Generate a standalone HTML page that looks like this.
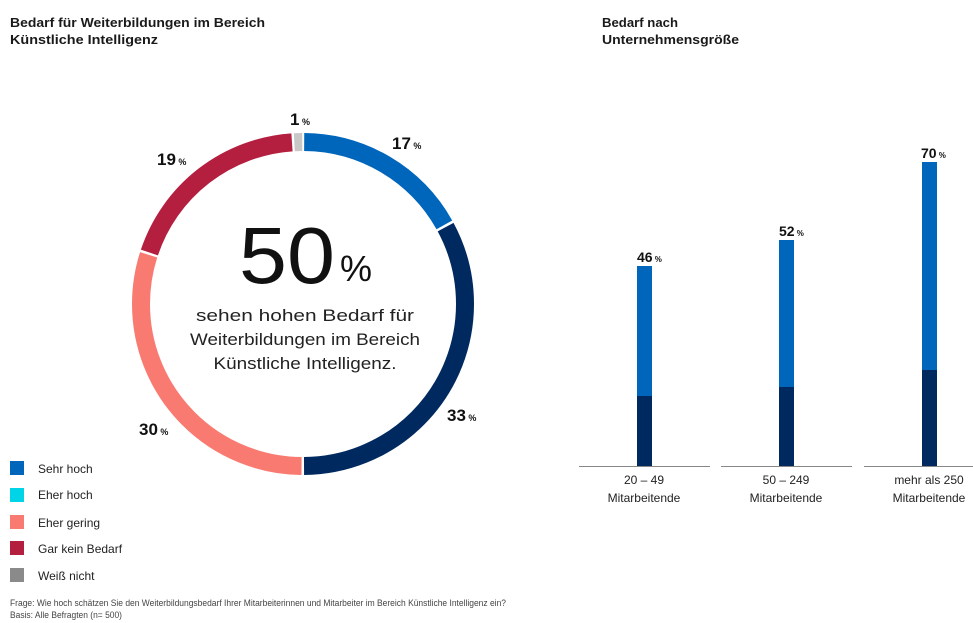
<!DOCTYPE html>
<html><head><meta charset="utf-8"><style>
html,body{margin:0;padding:0;background:#fff;}
svg{display:block;font-family:"Liberation Sans",sans-serif;}
</style></head><body>
<svg width="973" height="623" viewBox="0 0 973 623" xmlns="http://www.w3.org/2000/svg">
<g font-size="13" font-weight="bold" fill="#1a1a1a">
<text x="10" y="27" textLength="255" lengthAdjust="spacingAndGlyphs">Bedarf für Weiterbildungen im Bereich</text>
<text x="10" y="44" textLength="148" lengthAdjust="spacingAndGlyphs">Künstliche Intelligenz</text>
<text x="602" y="27" textLength="76" lengthAdjust="spacingAndGlyphs">Bedarf nach</text>
<text x="602" y="44" textLength="137" lengthAdjust="spacingAndGlyphs">Unternehmensgröße</text>
</g>
<g transform="rotate(-90 303 304)" fill="none" stroke-width="18">
<circle cx="303" cy="304" r="162" stroke="#0066bb" stroke-dasharray="170.5 2000" stroke-dashoffset="-1.2"/>
<circle cx="303" cy="304" r="162" stroke="#002a5f" stroke-dasharray="333.4 2000" stroke-dashoffset="-174.3"/>
<circle cx="303" cy="304" r="162" stroke="#f97a70" stroke-dasharray="302.9 2000" stroke-dashoffset="-510.2"/>
<circle cx="303" cy="304" r="162" stroke="#b41f40" stroke-dasharray="190.9 2000" stroke-dashoffset="-815.5"/>
<circle cx="303" cy="304" r="162" stroke="#c8c8c8" stroke-dasharray="8 2000" stroke-dashoffset="-1008.7"/>
</g>
<g fill="#111" font-size="17" font-weight="600">
<text x="290" y="125">1<tspan font-size="9"> %</tspan></text>
<text x="392" y="149">17<tspan font-size="9"> %</tspan></text>
<text x="157" y="165">19<tspan font-size="9"> %</tspan></text>
<text x="447" y="421">33<tspan font-size="9"> %</tspan></text>
<text x="139" y="435">30<tspan font-size="9"> %</tspan></text>
</g>
<text x="239" y="283" font-size="80" fill="#111" textLength="96" lengthAdjust="spacingAndGlyphs">50</text>
<text x="340" y="281" font-size="36" fill="#111">%</text>
<g font-size="17" fill="#222" text-anchor="middle">
<text x="305" y="321" textLength="218" lengthAdjust="spacingAndGlyphs">sehen hohen Bedarf für</text>
<text x="305" y="345" textLength="230" lengthAdjust="spacingAndGlyphs">Weiterbildungen im Bereich</text>
<text x="305" y="369" textLength="183" lengthAdjust="spacingAndGlyphs">Künstliche Intelligenz.</text>
</g>
<g>
<rect x="10" y="461" width="14" height="14" fill="#0066bb"/>
<rect x="10" y="488" width="14" height="14" fill="#00d4e6"/>
<rect x="10" y="515" width="14" height="14" fill="#f97a70"/>
<rect x="10" y="541" width="14" height="14" fill="#b41f40"/>
<rect x="10" y="568" width="14" height="14" fill="#8a8a8a"/>
</g>
<g font-size="12" fill="#222">
<text x="38" y="473">Sehr hoch</text>
<text x="38" y="499">Eher hoch</text>
<text x="38" y="527">Eher gering</text>
<text x="38" y="553">Gar kein Bedarf</text>
<text x="38" y="580">Weiß nicht</text>
</g>
<g font-size="9" fill="#444">
<text x="10" y="606" textLength="496" lengthAdjust="spacingAndGlyphs">Frage: Wie hoch schätzen Sie den Weiterbildungsbedarf Ihrer Mitarbeiterinnen und Mitarbeiter im Bereich Künstliche Intelligenz ein?</text>
<text x="10" y="618" textLength="112" lengthAdjust="spacingAndGlyphs">Basis: Alle Befragten (n= 500)</text>
</g>
<g>
<rect x="637" y="266" width="15" height="130" fill="#0066bb"/>
<rect x="637" y="396" width="15" height="70" fill="#002a5f"/>
<rect x="779" y="240" width="15" height="147" fill="#0066bb"/>
<rect x="779" y="387" width="15" height="79" fill="#002a5f"/>
<rect x="922" y="162" width="15" height="208" fill="#0066bb"/>
<rect x="922" y="370" width="15" height="96" fill="#002a5f"/>
</g>
<g stroke="#888" stroke-width="1">
<line x1="579" y1="466.5" x2="710" y2="466.5"/>
<line x1="721" y1="466.5" x2="852" y2="466.5"/>
<line x1="864" y1="466.5" x2="973" y2="466.5"/>
</g>
<g font-size="14" fill="#111" font-weight="600">
<text x="637" y="262">46<tspan font-size="8"> %</tspan></text>
<text x="779" y="236">52<tspan font-size="8"> %</tspan></text>
<text x="921" y="158">70<tspan font-size="8"> %</tspan></text>
</g>
<g font-size="12" fill="#222" text-anchor="middle">
<text x="644" y="484">20 – 49</text>
<text x="644" y="502">Mitarbeitende</text>
<text x="786" y="484">50 – 249</text>
<text x="786" y="502">Mitarbeitende</text>
<text x="929" y="484">mehr als 250</text>
<text x="929" y="502">Mitarbeitende</text>
</g>
</svg>
</body></html>
